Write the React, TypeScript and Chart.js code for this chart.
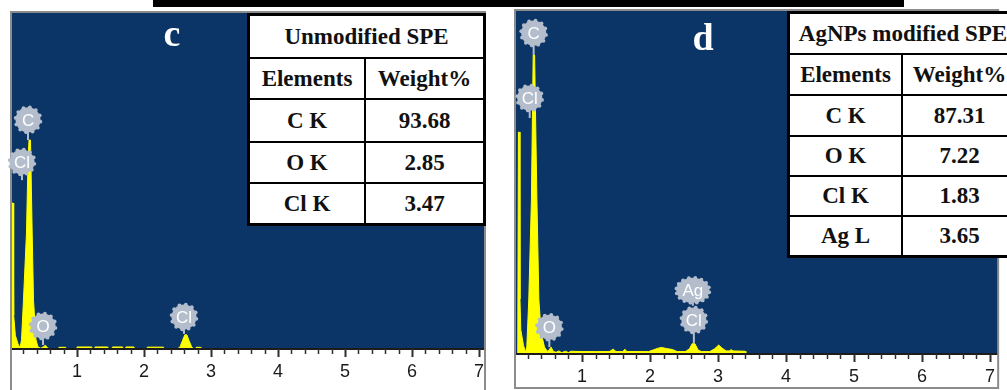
import { useEffect, useRef } from "react";
import { Chart, registerables } from "chart.js";

Chart.register(...registerables);

// Energy axis labels (keV)
const energyTicks = [1, 2, 3, 4, 5, 6, 7];

// Unmodified SPE spectrum: energy (keV) and counts (% of full scale)
const unmodEnergy = [
  0, 0.02, 0.03, 0.045, 0.055, 0.08, 0.12, 0.15, 0.172, 0.201, 0.246, 0.269, 0.284, 0.306, 0.331,
  0.351, 0.388, 0.418, 0.46, 0.5, 0.53, 0.56, 0.6, 0.72, 0.73, 0.83, 0.84, 0.99, 1.0, 1.22, 1.23,
  1.26, 1.27, 1.46, 1.47, 1.52, 1.53, 1.68, 1.69, 1.72, 1.73, 1.85, 1.86, 2.04, 2.05, 2.29, 2.3,
  2.5, 2.54, 2.58, 2.61, 2.64, 2.67, 2.71, 2.74, 2.77, 2.78, 2.84, 2.85, 7.1,
];
const unmodCounts = [
  0, 0, 43.3, 43.3, 10, 4, 1.5, 0.3, 2.7, 14.5, 34.4, 56, 62, 62, 34.4,
  14.5, 2.7, 0.6, 0.2, 0.7, 1.1, 0.3, 0, 0, 0.5, 0.5, 0, 0, 0.6, 0.6, 0,
  0, 0.6, 0.6, 0, 0, 0.6, 0.6, 0, 0, 0.6, 0.6, 0, 0, 0.55, 0.55, 0,
  0, 0.7, 2.8, 4.2, 4.2, 2.6, 0.7, 0, 0, 0.5, 0.5, 0, 0,
];

// AgNPs modified SPE spectrum
const agEnergy = [
  0, 0.055, 0.065, 0.078, 0.088, 0.1, 0.14, 0.17, 0.188, 0.217, 0.256, 0.282, 0.303, 0.337, 0.366,
  0.4, 0.448, 0.49, 0.51, 0.545, 0.58, 0.62, 0.66, 0.7, 0.76, 0.8, 0.84, 1.0, 1.2, 1.4, 1.46, 1.5,
  1.6, 1.63, 1.66, 1.9, 1.98, 2.05, 2.12, 2.17, 2.24, 2.33, 2.4, 2.52, 2.58, 2.62, 2.66, 2.71,
  2.76, 2.88, 2.95, 3.01, 3.06, 3.12, 3.17, 3.19, 3.22, 3.4, 3.41, 7.2,
];
const agCounts = [
  0, 0, 64.5, 64.5, 16, 7, 2.5, 0.5, 2, 15.7, 44.8, 86.9, 86.9, 44.8, 15.7,
  6.1, 2, 0.8, 1, 2.0, 0.7, 0.5, 0.9, 0.4, 0.8, 0.4, 0.8, 0.7, 0.7, 0.7, 1.4, 0.7,
  0.7, 1.4, 0.7, 0.7, 0.7, 1.2, 1.7, 1.9, 1.6, 1.3, 0.7, 0.7, 1.5, 3.0, 3.0, 1.1,
  0.7, 0.7, 1.5, 2.6, 1.7, 0.9, 0.9, 1.3, 0.9, 0.8, 0, 0,
];

// Peak identification badges: label, line energy (keV), badge level, stem end level
const unmodBadgeLabels = ["C", "Cl", "O", "Cl"];
const unmodBadgeEnergy = [0.269, 0.179, 0.493, 2.597];
const unmodBadgeLevel = [68, 55.5, 6.8, 9.5];
const unmodBadgeStemTo = [62, 50.1, 1.2, 4.5];

const agBadgeLabels = ["C", "Cl", "O", "Cl", "Ag"];
const agBadgeEnergy = [0.289, 0.231, 0.52, 2.645, 2.63];
const agBadgeLevel = [93.3, 74.4, 7.8, 9.9, 18.5];
const agBadgeStemTo = [86.9, 68.6, 2.0, 3.0, 14.0];

// Composition tables
const tableHeaders = ["Elements", "Weight%"];
const unmodElements = ["C K", "O K", "Cl K"];
const unmodWeights = ["93.68", "2.85", "3.47"];
const agElements = ["C K", "O K", "Cl K", "Ag L"];
const agWeights = ["87.31", "7.22", "1.83", "3.65"];

const PLOT_BG = "#0a3566";
const TRACE = "#ffff00";
const BADGE = "#b3bdcc";
const FRAME = "#8c8c8c";

type Badge = { label: string; x: number; y: number; stem: number };

function zipBadges(labels: string[], xs: number[], ys: number[], stems: number[]): Badge[] {
  return labels.map((label, i) => ({ label, x: xs[i], y: ys[i], stem: stems[i] }));
}

function drawBadge(ctx: CanvasRenderingContext2D, cx: number, cy: number, label: string) {
  const wide = label === "Ag";
  const rx = wide ? 16.5 : 12.5;
  const ry = 12.5;
  const n = wide ? 16 : 12;
  ctx.fillStyle = BADGE;
  for (let i = 0; i < n; i++) {
    const a = (i * 2 * Math.PI) / n + 0.15;
    ctx.beginPath();
    ctx.arc(cx + rx * Math.cos(a), cy + ry * Math.sin(a), 1.9, 0, Math.PI * 2);
    ctx.fill();
  }
  ctx.beginPath();
  ctx.ellipse(cx, cy, rx, ry, 0, 0, Math.PI * 2);
  ctx.fill();
  ctx.fillStyle = "#ffffff";
  ctx.font = "17px 'Liberation Sans', Arial, sans-serif";
  ctx.textAlign = "center";
  ctx.textBaseline = "middle";
  ctx.fillText(label, cx, cy + 1);
}

function makePanelPlugin(badges: Badge[], frameBottom: number, xMax: number) {
  return {
    id: "edsPanel",
    beforeDatasetsDraw(chart: any) {
      const { ctx, chartArea } = chart;
      ctx.save();
      ctx.fillStyle = PLOT_BG;
      ctx.fillRect(chartArea.left, chartArea.top, chartArea.right - chartArea.left, chartArea.bottom - chartArea.top);
      ctx.restore();
    },
    afterDatasetsDraw(chart: any) {
      const { ctx, chartArea } = chart;
      const xs = chart.scales.x;
      const ys = chart.scales.y;
      ctx.save();
      // axis line
      ctx.strokeStyle = "#1c1c1c";
      ctx.lineWidth = 2;
      ctx.beginPath();
      ctx.moveTo(chartArea.left, chartArea.bottom);
      ctx.lineTo(chartArea.right, chartArea.bottom);
      ctx.stroke();
      // tick marks every 0.2 keV, longer at whole keV
      ctx.strokeStyle = "#2e2e2e";
      for (let i = 1; i / 5 <= xMax + 1e-9; i++) {
        const px = Math.round(xs.getPixelForValue(i / 5)) + 0.5;
        const major = i % 5 === 0;
        ctx.lineWidth = major ? 2 : 1.5;
        ctx.beginPath();
        ctx.moveTo(px, chartArea.bottom);
        ctx.lineTo(px, chartArea.bottom + (major ? 8 : 5));
        ctx.stroke();
      }
      // panel frame
      ctx.strokeStyle = FRAME;
      ctx.lineWidth = 2;
      ctx.strokeRect(chartArea.left + 1, chartArea.top, chartArea.right - chartArea.left - 1, frameBottom - chartArea.top);
      // badges with stems
      ctx.strokeStyle = BADGE;
      ctx.lineWidth = 2;
      for (const b of badges) {
        const cx = xs.getPixelForValue(b.x);
        const cy = ys.getPixelForValue(b.y);
        ctx.beginPath();
        ctx.moveTo(cx, cy + 12);
        ctx.lineTo(cx, ys.getPixelForValue(b.stem));
        ctx.stroke();
      }
      for (const b of badges) {
        drawBadge(ctx, xs.getPixelForValue(b.x), ys.getPixelForValue(b.y), b.label);
      }
      ctx.restore();
    },
  };
}

type PanelProps = {
  left: number;
  width: number;
  energy: number[];
  counts: number[];
  badges: Badge[];
  padding: { left: number; right: number; top: number; bottom: number };
  axisHeight: number;
  labelPad: number;
  xMax: number;
  frameBottom: number;
};

function SpectrumPanel(p: PanelProps) {
  const ref = useRef<HTMLCanvasElement>(null);
  useEffect(() => {
    if (!ref.current) return;
    const chart = new Chart(ref.current, {
      type: "line",
      data: {
        datasets: [
          {
            data: p.energy.map((e, i) => ({ x: e, y: p.counts[i] })),
            borderColor: TRACE,
            backgroundColor: TRACE,
            borderWidth: 1,
            fill: "origin",
            pointRadius: 0,
            tension: 0,
          },
        ],
      },
      options: {
        animation: false,
        responsive: false,
        maintainAspectRatio: false,
        layout: { padding: p.padding },
        plugins: { legend: { display: false }, tooltip: { enabled: false } },
        scales: {
          x: {
            type: "linear",
            min: 0,
            max: p.xMax,
            afterBuildTicks: (s: any) => {
              s.ticks = energyTicks.map((v) => ({ value: v }));
            },
            afterFit: (s: any) => {
              s.height = p.axisHeight;
            },
            grid: { display: false, drawTicks: false },
            border: { display: false },
            ticks: {
              includeBounds: false,
              autoSkip: false,
              maxRotation: 0,
              padding: p.labelPad,
              color: "#1a1a1a",
              font: { family: "'Liberation Sans', Arial, sans-serif", size: 18 },
              callback: (v: any) => String(v),
            },
          },
          y: { display: false, min: 0, max: 100 },
        },
      },
      plugins: [makePanelPlugin(p.badges, p.frameBottom, p.xMax)],
    } as any);
    return () => chart.destroy();
  }, []);
  return (
    <canvas
      ref={ref}
      width={p.width}
      height={390}
      style={{ position: "absolute", left: p.left, top: 0, width: p.width, height: 390 }}
    />
  );
}

type TableProps = {
  x: number;
  y: number;
  colW: number[];
  rowH: number[];
  title: string;
  elements: string[];
  weights: string[];
};

function CompositionTable(t: TableProps) {
  const font: any = {
    fontFamily: "'Liberation Serif', 'Times New Roman', serif",
    fontWeight: "bold",
    fontSize: 23,
    color: "#111",
  };
  const cell = (w: number, h: number, text: string, last: boolean, rightLine: boolean) => (
    <div
      style={{
        boxSizing: "border-box",
        width: w,
        height: h,
        display: "flex",
        alignItems: "center",
        justifyContent: "center",
        borderBottom: last ? "none" : "2.5px solid #000",
        borderRight: rightLine ? "2.5px solid #000" : "none",
        whiteSpace: "nowrap",
        overflow: "visible",
        ...font,
      }}
    >
      {text}
    </div>
  );
  const rows = [[tableHeaders[0], tableHeaders[1]], ...t.elements.map((e, i) => [e, t.weights[i]])];
  const totalW = t.colW[0] + t.colW[1];
  return (
    <div
      style={{
        position: "absolute",
        left: t.x,
        top: t.y,
        width: totalW,
        boxSizing: "border-box",
        border: "3px solid #000",
        background: "#fff",
        overflow: "hidden",
      }}
    >
      {cell(totalW - 6, t.rowH[0], t.title, false, false)}
      {rows.map((r, i) => (
        <div key={i} style={{ display: "flex" }}>
          {cell(t.colW[0] - 3, t.rowH[i + 1], r[0], i === rows.length - 1, true)}
          {cell(t.colW[1] - 3, t.rowH[i + 1], r[1], i === rows.length - 1, false)}
        </div>
      ))}
    </div>
  );
}

export default function App() {
  const unmodBadges = zipBadges(unmodBadgeLabels, unmodBadgeEnergy, unmodBadgeLevel, unmodBadgeStemTo);
  const agBadges = zipBadges(agBadgeLabels, agBadgeEnergy, agBadgeLevel, agBadgeStemTo);
  const letter: any = {
    position: "absolute",
    color: "#fff",
    fontFamily: "'Liberation Serif', 'Times New Roman', serif",
    fontWeight: "bold",
    fontSize: 38,
    lineHeight: "38px",
    transform: "translate(-50%, -50%)",
  };
  return (
    <div
      style={{
        position: "absolute",
        left: 0,
        top: 0,
        width: 1007,
        height: 390,
        overflow: "hidden",
        background: "#fff",
      }}
    >
      <div style={{ position: "absolute", left: 153, top: 0, width: 751, height: 7, background: "#000" }} />
      <SpectrumPanel
        left={0}
        width={500}
        energy={unmodEnergy}
        counts={unmodCounts}
        badges={unmodBadges}
        padding={{ left: 10, right: 15, top: 12, bottom: 0 }}
        axisHeight={41}
        labelPad={12}
        xMax={7.09}
        frameBottom={392}
      />
      <SpectrumPanel
        left={500}
        width={507}
        energy={agEnergy}
        counts={agCounts}
        badges={agBadges}
        padding={{ left: 14, right: 0, top: 10, bottom: 2 }}
        axisHeight={34}
        labelPad={12}
        xMax={7.12}
        frameBottom={388}
      />
      <div style={{ ...letter, left: 172, top: 33 }}>c</div>
      <div style={{ ...letter, left: 703, top: 37 }}>d</div>
      <CompositionTable
        x={247}
        y={13}
        colW={[119, 120]}
        rowH={[43, 41, 43, 41, 39]}
        title="Unmodified SPE"
        elements={unmodElements}
        weights={unmodWeights}
      />
      <CompositionTable
        x={787}
        y={11}
        colW={[116, 116]}
        rowH={[41, 41, 41, 40, 40, 38]}
        title="AgNPs modified SPE"
        elements={agElements}
        weights={agWeights}
      />
    </div>
  );
}
